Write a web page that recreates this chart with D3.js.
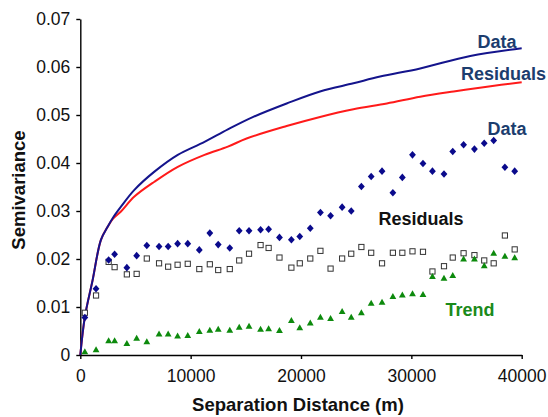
<!DOCTYPE html>
<html>
<head>
<meta charset="utf-8">
<script src="https://cdn.jsdelivr.net/npm/d3@7"></script>
<style>
  html, body { margin: 0; padding: 0; background: #fff; }
  svg { display: block; font-family: "Liberation Sans", Arial, sans-serif; }
</style>
</head>
<body>
<svg id="chart" width="548" height="417"></svg>
<script>
// Lag distances (m) of the experimental semivariogram
const lags = [412, 1427, 2569, 3109, 4219, 5107, 6027, 7137, 7962, 8818, 9738,
  10785, 11737, 12498, 13545, 14401, 15290, 16336, 17066, 18049, 19128, 19889,
  20840, 21760, 22680, 23727, 24552, 25472, 26360, 27343, 28326, 29183, 30103,
  31054, 31911, 32958, 33751, 34734, 35717, 36605, 37462, 38477, 39365];

// Experimental semivariance: raw data
const dataGamma = [0.0078, 0.0138, 0.0198, 0.0210, 0.0182, 0.0207, 0.0228, 0.0226,
  0.0226, 0.0232, 0.0232, 0.0219, 0.0254, 0.0230, 0.0223, 0.0259, 0.0259, 0.0261,
  0.0262, 0.0245, 0.0240, 0.0247, 0.0264, 0.0297, 0.0290, 0.0308, 0.0300, 0.0351,
  0.0372, 0.0383, 0.0338, 0.0370, 0.0417, 0.0399, 0.0383, 0.0377, 0.0424, 0.0438,
  0.0429, 0.0441, 0.0447, 0.0391, 0.0383];

// Experimental semivariance: residuals after trend removal
const residGamma = [0.0088, 0.0124, 0.0194, 0.0183, 0.0168, 0.0169, 0.0201, 0.0191,
  0.0184, 0.0188, 0.0190, 0.0179, 0.0189, 0.0177, 0.0179, 0.0197, 0.0211, 0.0229,
  0.0223, 0.0203, 0.0182, 0.0191, 0.0201, 0.0217, 0.0180, 0.0201, 0.0211, 0.0225,
  0.0213, 0.0191, 0.0213, 0.0213, 0.0216, 0.0215, 0.0174, 0.0185, 0.0203, 0.0212,
  0.0208, 0.0197, 0.0191, 0.0249, 0.0220];

// Experimental semivariance: trend component
const trendGamma = [0.0007, 0.0011, 0.0030, 0.0030, 0.0024, 0.0035, 0.0028, 0.0044,
  0.0044, 0.0040, 0.0041, 0.0049, 0.0052, 0.0054, 0.0052, 0.0058, 0.0060, 0.0054,
  0.0055, 0.0051, 0.0072, 0.0057, 0.0067, 0.0079, 0.0076, 0.0091, 0.0079, 0.0088,
  0.0108, 0.0110, 0.0122, 0.0125, 0.0128, 0.0126, 0.0164, 0.0160, 0.0166, 0.0200,
  0.0200, 0.0186, 0.0212, 0.0206, 0.0203];

// Fitted model curve for the raw data
const dataModelX = [0, 418, 1117, 1870, 2478, 2932, 3686, 4902, 6718, 8833, 11257,
  13373, 15673, 18700, 21725, 24751, 27170, 30802, 35340, 40000];
const dataModelY = [0, 0.0080, 0.0156, 0.0240, 0.0267, 0.0285, 0.0309, 0.0344,
  0.0382, 0.0417, 0.0444, 0.0470, 0.0496, 0.0524, 0.0549, 0.0566, 0.0580, 0.0597,
  0.0623, 0.0639];

// Fitted model curve for the residuals
const residModelX = [0, 418, 1117, 1870, 2478, 2932, 3686, 4902, 6718, 8833, 11257,
  13373, 15068, 18700, 21725, 24751, 27780, 30802, 33830, 36860, 40000];
const residModelY = [0, 0.0080, 0.0156, 0.0240, 0.0267, 0.0283, 0.0299, 0.0330,
  0.0361, 0.0392, 0.0417, 0.0434, 0.0451, 0.0477, 0.0496, 0.0512, 0.0524, 0.0538,
  0.0549, 0.0559, 0.0568];

const xTicks = [0, 10000, 20000, 30000, 40000];
const yTicks = [0, 0.01, 0.02, 0.03, 0.04, 0.05, 0.06, 0.07];

const svg = d3.select("#chart");
const x = d3.scaleLinear().domain([0, 40000]).range([80.3, 521.7]);
const y = d3.scaleLinear().domain([0, 0.07]).range([355, 19]);

// Axes
const xAxis = svg.append("g").attr("transform", `translate(0,${y(0)})`)
  .call(d3.axisBottom(x).tickValues(xTicks).tickFormat(d3.format("d"))
    .tickSizeInner(4).tickSizeOuter(0).tickPadding(11));
const yAxis = svg.append("g").attr("transform", `translate(${x(0)},0)`)
  .call(d3.axisLeft(y).tickValues(yTicks).tickFormat(d => d === 0 ? "0" : d3.format(".2f")(d))
    .tickSizeInner(4).tickSizeOuter(0).tickPadding(6));
[xAxis, yAxis].forEach(g => {
  g.selectAll("path, line").attr("stroke", "#000").attr("stroke-width", 1.4);
  g.selectAll("text").attr("font-size", 17.5).attr("fill", "#111")
    .attr("font-family", "'Liberation Sans', Arial, sans-serif");
});

// Axis titles
svg.append("text").attr("x", 298).attr("y", 411).attr("text-anchor", "middle")
  .attr("font-size", 18.5).attr("font-weight", "bold").attr("fill", "#111")
  .text("Separation Distance (m)");
svg.append("text").attr("transform", "translate(25,190) rotate(-90)")
  .attr("text-anchor", "middle").attr("font-size", 18.5).attr("font-weight", "bold")
  .attr("fill", "#111").text("Semivariance");

// Model curves
const line = d3.line().x(d => x(d[0])).y(d => y(d[1])).curve(d3.curveCatmullRom.alpha(0.5));
svg.append("path").datum(d3.zip(residModelX, residModelY))
  .attr("fill", "none").attr("stroke", "#ff1a1a").attr("stroke-width", 2).attr("d", line);
svg.append("path").datum(d3.zip(dataModelX, dataModelY))
  .attr("fill", "none").attr("stroke", "#14148c").attr("stroke-width", 2).attr("d", line);

// Experimental points
svg.append("g").selectAll("rect").data(d3.zip(lags, residGamma)).join("rect")
  .attr("x", d => x(d[0]) - 2.6).attr("y", d => y(d[1]) - 2.6)
  .attr("width", 5.2).attr("height", 5.2)
  .attr("fill", "#fff").attr("stroke", "#333").attr("stroke-width", 1);

const triPath = "M0,-3.4L3.4,2.6L-3.4,2.6Z";
svg.append("g").selectAll("path").data(d3.zip(lags, trendGamma)).join("path")
  .attr("transform", d => `translate(${x(d[0])},${y(d[1])})`)
  .attr("d", triPath).attr("fill", "#0d8a0d");

const diaPath = "M0,-3.8L3.4,0L0,3.8L-3.4,0Z";
svg.append("g").selectAll("path").data(d3.zip(lags, dataGamma)).join("path")
  .attr("transform", d => `translate(${x(d[0])},${y(d[1])})`)
  .attr("d", diaPath).attr("fill", "#0a0a8c");

// Series labels
const labels = [
  { t: "Data", x: 497, y: 47.5, c: "#1c3d6e", a: "middle" },
  { t: "Residuals", x: 461, y: 80, c: "#1c3d6e", a: "start" },
  { t: "Data", x: 507, y: 135, c: "#1c3d6e", a: "middle" },
  { t: "Residuals", x: 421, y: 225, c: "#111", a: "middle" },
  { t: "Trend", x: 470, y: 316, c: "#1a8a1a", a: "middle" }
];
svg.append("g").selectAll("text").data(labels).join("text")
  .attr("x", d => d.x).attr("y", d => d.y).attr("text-anchor", d => d.a)
  .attr("font-size", 18).attr("font-weight", "bold").attr("fill", d => d.c)
  .text(d => d.t);
</script>
</body>
</html>
